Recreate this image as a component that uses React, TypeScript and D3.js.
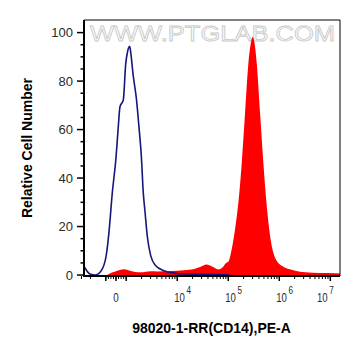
import { useRef, useEffect } from 'react';
import * as d3 from 'd3';

// Blue (unstained / isotype) histogram, PE-A intensity vs relative count
const blueX = [-2670, -2480, -2040, -1580, -1170, -910, -690, -360, 0, 225, 390, 716, 951, 1060, 1171, 1240, 1360, 1420, 1580, 1780, 1980, 2160, 2340, 2590, 3020, 3790, 5510, 8650, 13600, 28000, 55000, 108000];
const blueY = [3.7, 2.5, 0.4, 0, 2.5, 9.4, 17.6, 34, 48.4, 61.2, 69.4, 72.2, 87, 92, 94.3, 91, 83, 80, 73, 61, 49, 34, 26, 16, 8, 3.8, 1.8, 0.8, 0.4, 0.3, 0.2, 0];

// Red (CD14 stained) histogram
const redX = [-882, -392, 127, 784, 1187, 1422, 1923, 3020, 4074, 7464, 13590, 21330, 27990, 37840, 48080, 63970, 75520, 93500, 100500, 117200, 135900, 157800, 184100, 213400, 247700, 273600, 302000, 331100, 362200, 420700, 487900, 568900, 660700, 801700, 1.12e6, 2.04e6, 3.21e6, 6.31e6, 1.24e7, 1.55e7];
const redY = [0, 1.0, 1.8, 2.4, 1.8, 1.4, 1.1, 1.6, 1.5, 1.7, 2.0, 2.5, 3.3, 4.3, 3.5, 2.3, 3.0, 5.2, 5.5, 10.7, 18.9, 29.8, 46.2, 66.7, 87.2, 95, 98.2, 95, 87.2, 66.7, 46.2, 28.4, 16.1, 7.9, 3.8, 1.8, 1.1, 0.8, 0.7, 0.6];

const yTicks = [0, 20, 40, 60, 80, 100];
const xDecades = [4, 5, 6, 7];
const xTitle = '98020-1-RR(CD14),PE-A';
const yTitle = 'Relative Cell Number';
const watermark = 'WWW.PTGLAB.COM';

const W = 361;
const H = 356;
const m = { left: 84, right: 340, top: 20, bottom: 276 };

// biexponential-like axis: linear around zero, log beyond +-1000
const lin = d3.scaleLinear().domain([-1000, 1000]).range([-0.2, 0.2]);
const lg = d3.scaleLog().domain([1000, 1e7]).range([0.2, 4.2]);
const biex = (v: number) => (Math.abs(v) <= 1000 ? lin(v) : Math.sign(v) * lg(Math.abs(v)));

export default function App() {
    const svgRef = useRef<SVGSVGElement>(null);

    useEffect(() => {
        if (!svgRef.current) return;
        const svg = d3.select(svgRef.current);
        svg.selectAll('*').remove();

        const xPos = d3.scaleLinear().domain([-0.627, 4.39]).range([m.left, m.right]);
        const x = (v: number) => xPos(biex(v));
        const y = d3.scaleLinear().domain([-0.4, 105.2]).range([m.bottom, m.top]);

        svg.append('defs').append('clipPath').attr('id', 'plot-clip')
            .append('rect')
            .attr('x', m.left).attr('y', m.top)
            .attr('width', m.right - m.left).attr('height', m.bottom - m.top);

        // watermark
        svg.append('text')
            .attr('x', 90).attr('y', 41)
            .attr('textLength', 245).attr('lengthAdjust', 'spacingAndGlyphs')
            .attr('fill', '#fbfbfb').attr('stroke', '#c9c9c9').attr('stroke-width', 0.8)
            .style('font-family', 'Arial, "Liberation Sans", sans-serif')
            .style('font-size', '22px')
            .text(watermark);

        const plot = svg.append('g').attr('clip-path', 'url(#plot-clip)');

        const red = redX.map((v, i) => [v, redY[i]] as [number, number]);
        const area = d3.area<[number, number]>()
            .x(d => x(d[0]))
            .y0(y(-0.4))
            .y1(d => y(d[1]))
            .curve(d3.curveMonotoneX);
        plot.append('path').attr('d', area(red) as string).attr('fill', '#ff0000');

        const blue = blueX.map((v, i) => [v, blueY[i]] as [number, number]);
        const line = d3.line<[number, number]>()
            .x(d => x(d[0]))
            .y(d => y(d[1]))
            .curve(d3.curveMonotoneX);
        plot.append('path').attr('d', line(blue) as string)
            .attr('fill', 'none').attr('stroke', '#16167c').attr('stroke-width', 1.6);

        // frame
        svg.append('path')
            .attr('d', `M${m.left},${m.top}H${m.right}V${m.bottom}`)
            .attr('fill', 'none').attr('stroke', '#000').attr('stroke-width', 1);
        svg.append('path')
            .attr('d', `M${m.left},${m.top}V${m.bottom}H${m.right}`)
            .attr('fill', 'none').attr('stroke', '#000').attr('stroke-width', 2);

        const font = 'Arial, "Liberation Sans", sans-serif';

        // y axis ticks
        const yMinor = d3.range(0, 101, 5);
        svg.selectAll('line.ym').data(yMinor).enter().append('line')
            .attr('x1', d => (d % 20 === 0 ? m.left - 7 : m.left - 3.5)).attr('x2', m.left)
            .attr('y1', d => y(d)).attr('y2', d => y(d))
            .attr('stroke', '#000').attr('stroke-width', 1.5);
        svg.selectAll('text.yl').data(yTicks).enter().append('text')
            .attr('x', 73).attr('y', d => y(d)).attr('dy', '0.36em')
            .attr('text-anchor', 'end').attr('fill', '#2a2a2a')
            .style('font-family', font).style('font-size', '13px')
            .text(d => d);

        // x axis ticks
        const minor: number[] = [];
        d3.range(-1000, 1001, 250).forEach(v => minor.push(v));
        [2000, 3000].forEach(v => minor.push(-v));
        for (let dd = 3; dd <= 6; dd++) for (let k = 2; k <= 9; k++) minor.push(k * 10 ** dd);
        const major = [-1000, 0, 1000, 1e4, 1e5, 1e6, 1e7];
        svg.selectAll('line.xm').data(minor).enter().append('line')
            .attr('x1', d => x(d)).attr('x2', d => x(d))
            .attr('y1', m.bottom).attr('y2', m.bottom + 3)
            .attr('stroke', '#000').attr('stroke-width', 1);
        svg.selectAll('line.xM').data(major).enter().append('line')
            .attr('x1', d => x(d)).attr('x2', d => x(d))
            .attr('y1', m.bottom).attr('y2', m.bottom + 5)
            .attr('stroke', '#000').attr('stroke-width', 1.5);

        svg.append('text')
            .attr('transform', `translate(${x(0)},302) scale(0.76,1)`)
            .attr('text-anchor', 'middle').attr('fill', '#2a2a2a')
            .style('font-family', font).style('font-size', '13px')
            .text('0');

        // decade labels, drawn narrow like the exported picture
        const dec = svg.selectAll('text.dec').data(xDecades).enter().append('text')
            .attr('transform', d => `translate(${Math.min(x(10 ** d) - 3, 317)},302) scale(0.74,1)`)
            .attr('fill', '#2a2a2a')
            .style('font-family', font).style('font-size', '13px');
        dec.append('tspan').text('10');
        dec.append('tspan')
            .attr('dx', 2).attr('dy', -8)
            .style('font-size', '11px')
            .text(d => d);

        // titles
        svg.append('text')
            .attr('x', (m.left + m.right) / 2 - 0.5).attr('y', 332.5)
            .attr('text-anchor', 'middle').attr('fill', '#000')
            .style('font-family', font).style('font-size', '14px').style('font-weight', 'bold')
            .text(xTitle);
        svg.append('text')
            .attr('transform', 'translate(32,148) rotate(-90)')
            .attr('text-anchor', 'middle').attr('fill', '#000')
            .style('font-family', font).style('font-size', '14px').style('font-weight', 'bold')
            .text(yTitle);
    }, []);

    return (
        <svg ref={svgRef} width={W} height={H}
            style={{ position: 'absolute', left: 0, top: 0, background: '#fff' }} />
    );
}
